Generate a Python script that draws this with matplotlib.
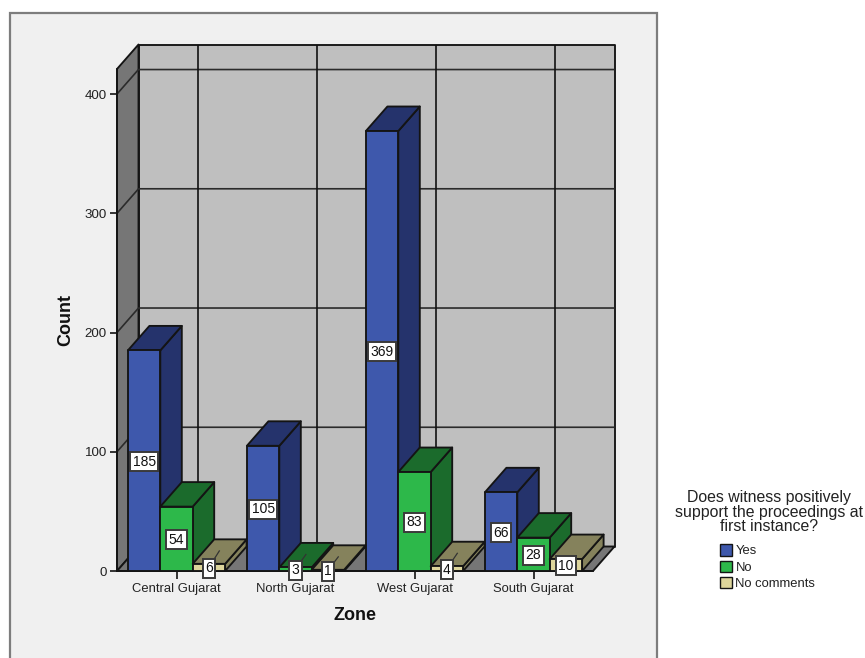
import matplotlib
matplotlib.use("Agg")
import matplotlib.pyplot as plt
from matplotlib.patches import Polygon, Rectangle, Patch

plt.rcParams["font.family"] = ["Liberation Sans", "DejaVu Sans"]

zones = ["Central Gujarat", "North Gujarat", "West Gujarat", "South Gujarat"]
yes_counts = [185, 105, 369, 66]
no_counts = [54, 3, 83, 28]
no_comment_counts = [6, 1, 4, 10]
series_names = ["Yes", "No", "No comments"]
y_ticks = [0, 100, 200, 300, 400]

W, H = 865, 658
DARK = "#141414"
FRONT = ["#3E58AC", "#2DB84A", "#DDD59B"]
TOP = ["#25336C", "#1B6B2C", "#85825C"]
SIDE = ["#25336C", "#1B6B2C", "#85825C"]

BAR_W = 32.4 / 119
DX = 21.5 / 119     # depth in category units
DY = 24.5 / 1.1925  # depth in count units
X0, X1 = -0.5, 3.5
Y0, Y1 = 0, 421

fig = plt.figure(figsize=(W / 100, H / 100), dpi=100, facecolor="white")
fig.add_artist(Rectangle((10 / W, -0.02), 647 / W, (H - 13) / H + 0.02,
                         transform=fig.transFigure, facecolor="#F0F0F0",
                         edgecolor="#7d7d7d", linewidth=1.6, zorder=-5))

ax = fig.add_axes([117 / W, (H - 571) / H, 476 / W, 502 / H])
ax.set_xlim(X0, X1)
ax.set_ylim(Y0, Y1)
ax.patch.set_visible(False)
for name in ("top", "right"):
    ax.spines[name].set_visible(False)
for name in ("left", "bottom"):
    ax.spines[name].set_color(DARK)
    ax.spines[name].set_linewidth(1.3)
    ax.spines[name].set_zorder(1.5)


def poly(points, face, z=1, lw=1.35):
    ax.add_patch(Polygon(points, closed=True, facecolor=face, edgecolor=DARK,
                         linewidth=lw, clip_on=False, zorder=z, joinstyle="round"))


def line(xs, ys, z=1.2, color="#2b2b2b", lw=1.2):
    ax.plot(xs, ys, color=color, linewidth=lw, clip_on=False, zorder=z,
            solid_capstyle="butt")


# Chart box: back wall, left wall and floor
poly([(X0 + DX, Y0 + DY), (X1 + DX, Y0 + DY), (X1 + DX, Y1 + DY), (X0 + DX, Y1 + DY)], "#BFBFBF")
poly([(X0, Y0), (X0 + DX, Y0 + DY), (X0 + DX, Y1 + DY), (X0, Y1)], "#767676")
poly([(X0, Y0), (X1, Y0), (X1 + DX, Y0 + DY), (X0 + DX, Y0 + DY)], "#767676")

for t in y_ticks[1:]:
    line([X0, X0 + DX, X1 + DX], [t, t + DY, t + DY])
for i in range(len(zones)):
    line([i + DX, i + DX], [Y0 + DY, Y1 + DY], color="#111111")

# Bars, painted left to right so nearer faces cover earlier ones
groups = [yes_counts, no_counts, no_comment_counts]
labels = []
for i in range(len(zones)):
    for s, values in enumerate(groups):
        v = values[i]
        left = i + (s - 1.5) * BAR_W
        right = left + BAR_W
        z = 2 + i + s * 0.1
        poly([(right, 0), (right + DX, DY), (right + DX, v + DY), (right, v)], SIDE[s], z)
        poly([(left, v), (right, v), (right + DX, v + DY), (left + DX, v + DY)], TOP[s], z)
        poly([(left, 0), (right, 0), (right, v), (left, v)], FRONT[s], z)
        labels.append(((left + right) / 2, v))

for x, v in labels:
    # Short bars get a leader running up to the middle of the top face
    if v < 8:
        line([x, x + DX / 2], [v / 2, v + DY / 2 + 1], z=20, color="#333333", lw=0.9)
    ax.text(x, v / 2 - 0.8, str(v), ha="center", va="center", fontsize=10, color="#111111",
            zorder=30, clip_on=False,
            bbox=dict(boxstyle="square,pad=0.18", facecolor="white",
                      edgecolor="#3a3a3a", linewidth=1.4))

ax.set_xticks(range(len(zones)), zones)
ax.set_yticks(y_ticks)
ax.tick_params(axis="y", length=5.2, width=1.2, color=DARK, labelsize=9.6, pad=2.2, labelcolor="#222222")
ax.tick_params(axis="x", length=5.8, width=1.2, color=DARK, labelsize=9.4, pad=2.5, labelcolor="#222222")

fig.text(355 / W, 1 - 615 / H, "Zone", ha="center", va="center",
         fontsize=13, fontweight="bold", color="#111111")
fig.text(66 / W, 1 - 320 / H, "Count", ha="center", va="center", rotation=90,
         fontsize=13, fontweight="bold", color="#111111")

fig.text(769 / W, 1 - 512 / H,
         "Does witness positively\nsupport the proceedings at\nfirst instance?",
         ha="center", va="center", fontsize=11.4, linespacing=0.98, color="#222222")

handles = [Patch(facecolor=c, edgecolor=DARK, linewidth=1.0) for c in FRONT]
fig.legend(handles, series_names, loc="upper left",
           bbox_to_anchor=(708 / W, 1 - 532.5 / H), frameon=False, fontsize=9.4,
           handlelength=0.95, handleheight=0.95, handletextpad=0.25,
           labelspacing=0.24, labelcolor="#222222")

fig.savefig("out.png", dpi=100, facecolor="white")
